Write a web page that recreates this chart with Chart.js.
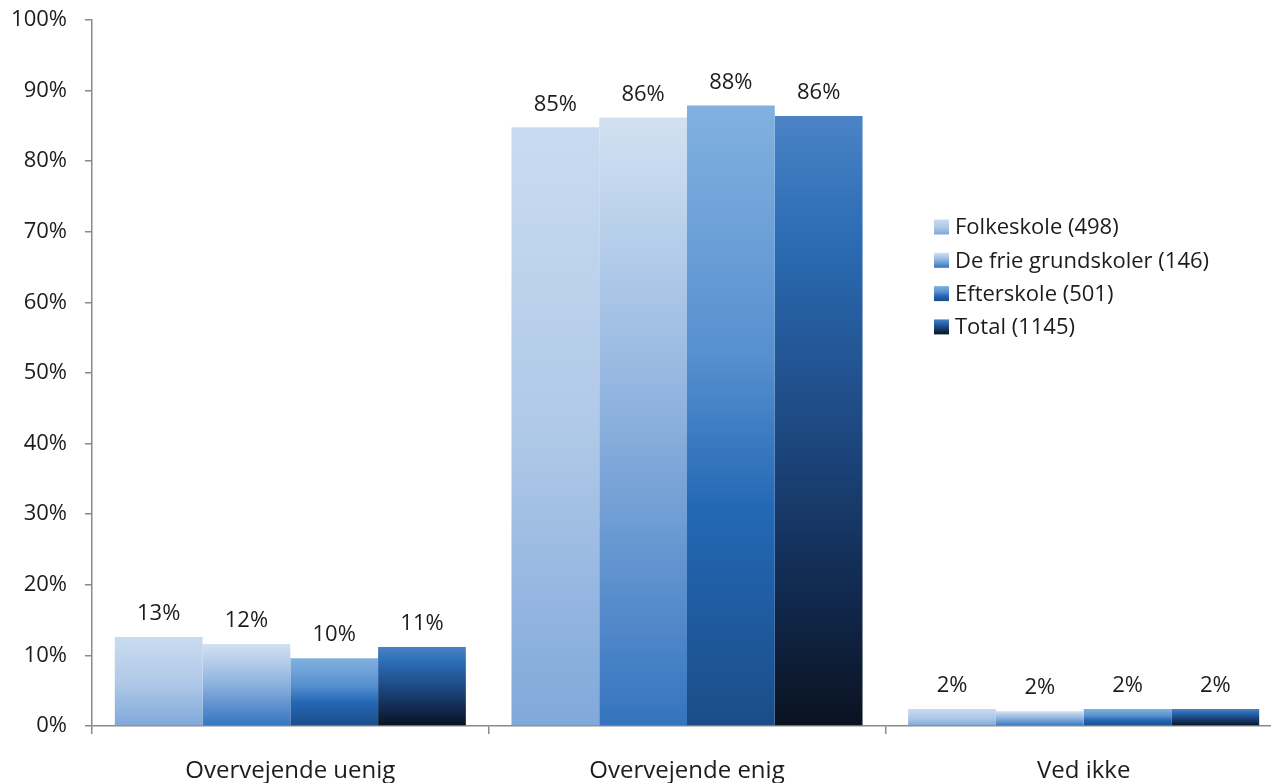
<!DOCTYPE html>
<html lang="da">
<head>
<meta charset="utf-8">
<title>Overvejende enig / uenig</title>
<script src="https://cdn.jsdelivr.net/npm/chart.js@4.4.1/dist/chart.umd.min.js"></script>
<style>
  html, body { margin: 0; padding: 0; background: #fff; overflow: hidden; }
  #wrap { width: 1300px; height: 783px; }
</style>
</head>
<body>
<div id="wrap"><canvas id="chart" width="1300" height="783"></canvas></div>
<script>
// Data
const categories = ["Overvejende uenig", "Overvejende enig", "Ved ikke"];
const seriesLabels = ["Folkeskole (498)", "De frie grundskoler (146)", "Efterskole (501)", "Total (1145)"];
const folkeskole = [12.6, 84.8, 2.4];
const frieGrundskoler = [11.6, 86.2, 2.1];
const efterskole = [9.6, 87.9, 2.4];
const total = [11.2, 86.4, 2.4];
const yMin = 0;
const yMax = 100;
const yStep = 10;

// gradient stops per serie (top -> bund)
const fills = [
  [[0, "#c9dbf0"], [0.5, "#b0c9e8"], [1, "#80a8da"]],
  [[0, "#d2e1f2"], [0.45, "#93b6e0"], [1, "#3474bf"]],
  [[0, "#82b1e0"], [0.4, "#5790cf"], [0.65, "#2468b5"], [1, "#1a4d88"]],
  [[0, "#4b83c6"], [0.2, "#2b6cb3"], [0.5, "#1e4a84"], [0.75, "#122d55"], [1, "#0a1221"]],
];

const axisColor = "#8a8a8a";
const textColor = "#1c1c1c";
const font = "'Open Sans', 'DejaVu Sans', sans-serif";

function makeGradient(ctx, stops, top, bottom) {
  const g = ctx.createLinearGradient(0, top, 0, bottom);
  stops.forEach(([o, c]) => g.addColorStop(o, c));
  return g;
}

function barFill(i) {
  return (c) => {
    const chart = c.chart;
    if (!chart.chartArea || c.type !== "data") return fills[i][1][1];
    const y = chart.scales.y;
    return makeGradient(chart.ctx, fills[i], y.getPixelForValue(c.raw), y.getPixelForValue(0));
  };
}

// procent over hver søjle
const valueLabels = {
  id: "valueLabels",
  afterDatasetsDraw(chart) {
    const ctx = chart.ctx;
    ctx.save();
    ctx.font = "22px " + font;
    ctx.fillStyle = textColor;
    ctx.textAlign = "center";
    ctx.textBaseline = "middle";
    chart.data.datasets.forEach((ds, i) => {
      chart.getDatasetMeta(i).data.forEach((bar, j) => {
        ctx.fillText(Math.round(ds.data[j]) + "%", bar.x, bar.y - 23);
      });
    });
    ctx.restore();
  },
};

// legende oven på plotområdet
const floatLegend = {
  id: "floatLegend",
  afterDraw(chart) {
    const ctx = chart.ctx;
    const x = 934, y0 = 227, step = 33.3, box = 15;
    ctx.save();
    ctx.font = "22px " + font;
    ctx.textAlign = "left";
    ctx.textBaseline = "middle";
    seriesLabels.forEach((label, i) => {
      const cy = y0 + i * step;
      ctx.fillStyle = makeGradient(ctx, fills[i], cy - box / 2, cy + box / 2);
      ctx.fillRect(x, cy - box / 2, box, box);
      ctx.fillStyle = textColor;
      ctx.fillText(label, x + 21, cy + 1);
    });
    ctx.restore();
  },
};

const datasets = [folkeskole, frieGrundskoler, efterskole, total].map((values, i) => ({
  label: seriesLabels[i],
  data: values,
  backgroundColor: barFill(i),
  borderWidth: 0,
  barPercentage: 1,
  categoryPercentage: 0.885,
}));

new Chart(document.getElementById("chart"), {
  type: "bar",
  data: { labels: categories, datasets: datasets },
  options: {
    responsive: false,
    animation: false,
    layout: { padding: { top: 20, right: 18, bottom: 0, left: 0 } },
    plugins: {
      legend: { display: false },
      tooltip: { enabled: false },
    },
    scales: {
      x: {
        offset: true,
        grid: { offset: true, drawOnChartArea: false, drawTicks: true, tickLength: 8, color: axisColor, lineWidth: 1.5 },
        border: { display: true, color: axisColor, width: 1.5 },
        ticks: { color: textColor, font: { family: font, size: 24 }, padding: 23, maxRotation: 0 },
        afterFit(scale) { scale.height = 57; },
      },
      y: {
        min: yMin,
        max: yMax,
        grid: { drawOnChartArea: false, drawTicks: true, tickLength: 7, color: axisColor, lineWidth: 1.5 },
        border: { display: true, color: axisColor, width: 1.5 },
        ticks: {
          stepSize: yStep,
          color: textColor,
          font: { family: font, size: 22 },
          padding: 18,
          callback: (v) => v + "%",
        },
        afterFit(scale) {
          scale.width = 92;
          scale.paddingTop = 0;
          scale.paddingBottom = 0;
        },
      },
    },
  },
  plugins: [valueLabels, floatLegend],
});
</script>
</body>
</html>
